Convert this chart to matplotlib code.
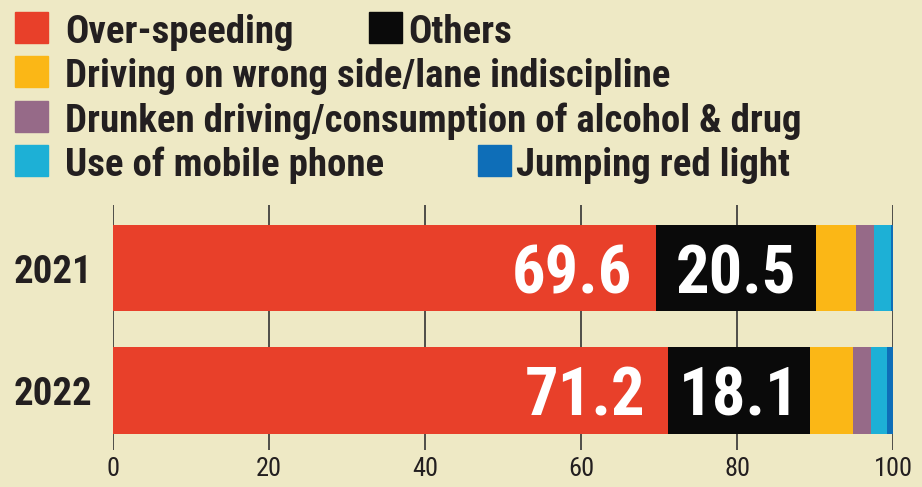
import numpy as np
import matplotlib
matplotlib.use("Agg")
from matplotlib import pyplot as plt
from matplotlib import font_manager
from matplotlib.patches import Rectangle

# -------------------------------
# data (% share of road accidents by cause)
# -------------------------------
years = ["2021", "2022"]
causes = [
    "Over-speeding",
    "Others",
    "Driving on wrong side/lane indiscipline",
    "Drunken driving/consumption of alcohol & drug",
    "Use of mobile phone",
    "Jumping red light",
]
over_speeding = [69.6, 71.2]
others = [20.5, 18.1]
wrong_side = [5.2, 5.6]
drunken = [2.3, 2.3]
mobile_phone = [2.1, 2.0]
red_light = [0.3, 0.8]

xticks = [0, 20, 40, 60, 80, 100]

# -------------------------------
# style
# -------------------------------
BG = "#EEE9C5"
colors = ["#E8402A", "#0A0A0A", "#FBB716", "#966A88", "#1DB0D6", "#0E6EB8"]
INK = "#231F20"

installed = {f.name for f in font_manager.fontManager.ttflist}
FONT = next((n for n in ["Liberation Sans Narrow", "Roboto Condensed",
                         "Open Sans Condensed", "DejaVu Sans"] if n in installed),
            "DejaVu Sans")
plt.rcParams["font.family"] = [FONT, "DejaVu Sans"]

W, H = 922, 487
fig = plt.figure(figsize=(W / 100, H / 100), dpi=100, facecolor=BG)


def fx(px):
    return px / W


def fy(py):
    return 1 - py / H


# -------------------------------
# stacked bars
# -------------------------------
ax = fig.add_axes([fx(113), fy(450), fx(893) - fx(113), fy(205) - fy(450)])
ax.set_facecolor(BG)

series = [over_speeding, others, wrong_side, drunken, mobile_phone, red_light]
ypos = np.arange(len(years))
left = np.zeros(len(years))
for vals, c in zip(series, colors):
    ax.barh(ypos, vals, left=left, height=0.71, color=c, zorder=3)
    left += np.array(vals)

# value labels on the first two segments
for i in range(len(years)):
    ax.text(over_speeding[i] - 3.0, ypos[i], f"{over_speeding[i]:.1f}",
            ha="right", va="center_baseline", color="white",
            fontsize=48, fontweight="bold", zorder=4)
    ax.text(over_speeding[i] + others[i] / 2, ypos[i], f"{others[i]:.1f}",
            ha="center", va="center_baseline", color="white",
            fontsize=48, fontweight="bold", zorder=4)

ax.set_xlim(0, 100)
ax.set_ylim(1.49, -0.516)
ax.set_xticks(xticks)
ax.set_xticklabels([str(t) for t in xticks], fontsize=19, color=INK)
ax.set_yticks(ypos)
ax.set_yticklabels(years, fontsize=28, fontweight="bold", color=INK)
ax.tick_params(axis="x", length=0, pad=5)
ax.tick_params(axis="y", length=0, pad=15)
ax.grid(axis="x", color="#333333", linewidth=1.2, zorder=1)
for s in ax.spines.values():
    s.set_visible(False)

# -------------------------------
# legend
# -------------------------------
legend_items = [
    (0, 15, 43, 65),     # Over-speeding
    (1, 369, 43, 408),   # Others
    (2, 15, 87, 65),     # Driving on wrong side
    (3, 15, 132, 65),    # Drunken driving
    (4, 15, 176, 65),    # Mobile phone
    (5, 478, 176, 516),  # Jumping red light
]
for idx, sq_x, base_y, tx in legend_items:
    fig.patches.append(Rectangle((fx(sq_x), fy(base_y)), fx(33), 31 / H,
                                 transform=fig.transFigure, color=colors[idx]))
    fig.text(fx(tx), fy(base_y), causes[idx], ha="left", va="baseline",
             fontsize=28, fontweight="bold", color=INK)

fig.savefig("out.png", dpi=100, facecolor=BG)
